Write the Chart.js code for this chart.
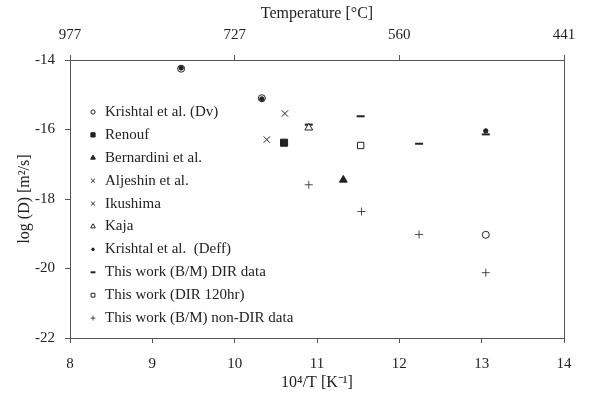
<!DOCTYPE html>
<html lang="en">
<head>
    <meta charset="UTF-8">
    <title>Diffusion coefficient vs 1/T</title>
    <script src="https://cdn.jsdelivr.net/npm/chart.js"></script>
    <style>
        html, body { margin: 0; padding: 0; background: #fff; }
        #wrap { width: 593px; height: 400px; }
    </style>
</head>
<body>
    <div id="wrap"><canvas id="diffChart"></canvas></div>

    <script>
        // values: x = 10^4/T [1/K], y = log(D) [m2/s]
        const krishtalDvX = [9.35, 10.33, 13.05];
        const krishtalDvY = [-14.25, -15.10, -19.03];
        const renoufX = [10.60];
        const renoufY = [-16.38];
        const bernardiniX = [11.32];
        const bernardiniY = [-17.45];
        const aljeshinX = [10.61];
        const aljeshinY = [-15.54];
        const ikushimaX = [10.39];
        const ikushimaY = [-16.29];
        const kajaX = [10.90];
        const kajaY = [-15.95];
        const krishtalDeffX = [9.35, 10.33, 13.05];
        const krishtalDeffY = [-14.23, -15.12, -16.04];
        const dirDataX = [10.90, 11.53, 12.24, 13.05];
        const dirDataY = [-15.86, -15.62, -16.41, -16.14];
        const dir120X = [11.53];
        const dir120Y = [-16.46];
        const nonDirX = [10.90, 11.54, 12.24, 13.05];
        const nonDirY = [-17.59, -18.36, -19.02, -20.12];

        // top axis: temperature labels at 10^4/T = 8, 10, 12, 14
        const tempTicks = [8, 10, 12, 14];
        const tempLabels = ['977', '727', '560', '441'];

        const ink = '#222';
        const axisColor = '#555';
        const serif = "'Liberation Serif', 'Times New Roman', serif";

        function pts(xs, ys) {
            return xs.map((x, i) => ({ x: x, y: ys[i] }));
        }

        function series(label, xs, ys, style, radius, fill, bw) {
            return {
                label: label,
                data: pts(xs, ys),
                pointStyle: style,
                pointRadius: radius,
                pointHoverRadius: radius,
                pointBorderColor: ink,
                pointBackgroundColor: fill,
                pointBorderWidth: bw || 1,
                showLine: false
            };
        }

        const datasets = [
            series('Krishtal et al. (Dv)', krishtalDvX, krishtalDvY, 'circle', 3.5, 'rgba(0,0,0,0)'),
            series('Renouf', renoufX, renoufY, 'rect', 5, ink),
            series('Bernardini et al.', bernardiniX, bernardiniY, 'triangle', 4.5, ink),
            series('Aljeshin et al.', aljeshinX, aljeshinY, 'crossRot', 4.5, '#fff'),
            series('Ikushima', ikushimaX, ikushimaY, 'crossRot', 4.5, '#fff'),
            series('Kaja', kajaX, kajaY, 'triangle', 4.5, '#fff'),
            series('Krishtal et al.  (Deff)', krishtalDeffX, krishtalDeffY, 'circle', 2.2, ink),
            series('This work (B/M) DIR data', dirDataX, dirDataY, 'line', 4, '#fff', 2),
            series('This work (DIR 120hr)', dir120X, dir120Y, 'rect', 4.5, '#fff'),
            series('This work (B/M) non-DIR data', nonDirX, nonDirY, 'cross', 4, '#fff', 0.8)
        ];

        // legend drawn inside the plot area, like the original figure
        const innerLegend = {
            id: 'innerLegend',
            afterDraw(chart) {
                const ctx = chart.ctx;
                const x0 = chart.chartArea.left + 23;
                const y0 = chart.chartArea.top + 52;
                const step = 22.9;
                ctx.save();
                chart.data.datasets.forEach((ds, i) => {
                    const y = y0 + i * step;
                    ctx.strokeStyle = ink;
                    ctx.fillStyle = ds.pointBackgroundColor === ink ? ink : '#fff';
                    ctx.lineWidth = ds.pointBorderWidth;
                    Chart.helpers.drawPoint(ctx, {
                        pointStyle: ds.pointStyle,
                        radius: ds.pointRadius * 0.6,
                        rotation: 0,
                        borderWidth: ds.pointBorderWidth
                    }, x0, y);
                    ctx.fillStyle = ink;
                    ctx.font = '15px ' + serif;
                    ctx.textBaseline = 'middle';
                    ctx.textAlign = 'left';
                    ctx.fillText(ds.label, x0 + 12, y);
                });
                ctx.restore();
            }
        };

        // right-hand frame line
        const frame = {
            id: 'frame',
            afterDraw(chart) {
                const a = chart.chartArea;
                const ctx = chart.ctx;
                ctx.save();
                ctx.strokeStyle = axisColor;
                ctx.lineWidth = 1;
                ctx.beginPath();
                ctx.moveTo(a.right + 0.5, a.top);
                ctx.lineTo(a.right + 0.5, a.bottom);
                ctx.stroke();
                ctx.restore();
            }
        };

        const tickFont = { family: serif, size: 15 };
        const titleFont = { family: serif, size: 16 };

        new Chart(document.getElementById('diffChart'), {
            type: 'scatter',
            data: { datasets },
            plugins: [innerLegend, frame],
            options: {
                responsive: true,
                maintainAspectRatio: false,
                animation: false,
                layout: { padding: { left: 0, right: 29, top: 0, bottom: 0 } },
                plugins: {
                    legend: { display: false },
                    tooltip: { enabled: false }
                },
                scales: {
                    x: {
                        type: 'linear',
                        position: 'bottom',
                        min: 8, max: 14,
                        afterFit: s => { s.height = 62; },
                        ticks: { stepSize: 1, color: ink, font: tickFont, padding: 12 },
                        grid: { drawOnChartArea: false, tickLength: 5, color: axisColor },
                        border: { color: axisColor },
                        title: { display: true, text: '10⁴/T [K⁻¹]', color: ink, font: titleFont, padding: { top: 0, bottom: 8 } }
                    },
                    x2: {
                        type: 'linear',
                        position: 'top',
                        min: 8, max: 14,
                        afterFit: s => { s.height = 60; },
                        afterBuildTicks: s => { s.ticks = tempTicks.map(v => ({ value: v })); },
                        ticks: {
                            color: ink, font: tickFont, padding: 11,
                            callback: v => tempLabels[tempTicks.indexOf(v)]
                        },
                        grid: { drawOnChartArea: false, tickLength: 5, color: axisColor },
                        border: { color: axisColor },
                        title: { display: true, text: 'Temperature [°C]', color: ink, font: titleFont, padding: { top: 4, bottom: 0 } }
                    },
                    y: {
                        min: -22, max: -14,
                        afterFit: s => { s.width = 70; },
                        ticks: { stepSize: 2, color: ink, font: tickFont, padding: 10 },
                        grid: { drawOnChartArea: false, tickLength: 5, color: axisColor },
                        border: { color: axisColor },
                        title: { display: true, text: 'log (D) [m²/s]', color: ink, font: titleFont, padding: { top: 15, bottom: 0 } }
                    }
                }
            }
        });
    </script>
</body>
</html>
